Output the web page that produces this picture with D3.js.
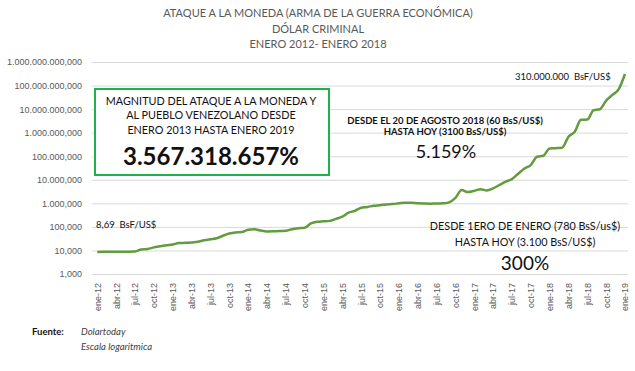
<!DOCTYPE html>
<html>
<head>
<meta charset="utf-8">
<script src="https://cdn.jsdelivr.net/npm/d3@7"></script>
<style>
  body { margin: 0; background: #fff; }
  svg { font-family: Lato, "Liberation Sans", sans-serif; }
  text { white-space: pre; }
</style>
</head>
<body>
<script>
var svgWidth = 635;
var svgHeight = 371;

// month names (es) and years for the category axis
var monthNames = ["ene", "feb", "mar", "abr", "may", "jun", "jul", "ago", "sep", "oct", "nov", "dic"];
var years = ["12", "13", "14", "15", "16", "17", "18", "19"];

// monthly rate BsF/US$, ene-12 .. ene-19
var rates = [
  8.69, 8.7, 8.8, 8.9, 8.9, 8.9, 9.0, 11.0, 11.5, 13.5, 15.0, 16.5,
  18.0, 20.5, 21.0, 21.5, 23.5, 27, 30, 33, 42, 52, 58, 60,
  75, 80, 70, 64, 65, 67, 68, 80, 88, 92, 140, 165,
  172, 180, 220, 270, 400, 480, 650, 700, 790, 830, 900, 930,
  1000, 1070, 1050, 1010, 980, 960, 990, 1000, 1100, 1700, 3700, 3000,
  3400, 4000, 3500, 4300, 6000, 8300, 10700, 18000, 30000, 42000, 95000, 105000,
  215000, 220000, 230000, 670000, 1100000, 3500000, 3600000, 9000000, 9800000, 23000000, 40000000, 70000000,
  310000000
];

var yTickValues = [1, 10, 100, 1e3, 1e4, 1e5, 1e6, 1e7, 1e8, 1e9];
var yTickLabels = ["1,000", "10,000", "100,000", "1.000,000", "10.000,000", "100.000,000",
  "1.000.000,000", "10.000.000,000", "100.000.000,000", "1.000.000.000,000"];

var titleLines = ["ATAQUE A LA MONEDA (ARMA DE LA GUERRA ECONÓMICA)", "DÓLAR CRIMINAL", "ENERO 2012- ENERO 2018"];

var months = [];
years.forEach(function(y) {
  monthNames.forEach(function(m) { months.push(m + "-" + y); });
});
months = months.slice(0, rates.length);

var svg = d3.select("body").append("svg")
  .attr("width", svgWidth)
  .attr("height", svgHeight);

var x = d3.scalePoint().domain(months).range([97.3, 625]);
var y = d3.scaleLog().domain([1, 1e9]).range([274, 62]);

// title
svg.append("g").selectAll("text")
  .data(titleLines)
  .enter().append("text")
  .attr("x", 318)
  .attr("y", (d, i) => 17 + i * 15.5)
  .attr("text-anchor", "middle")
  .attr("font-size", 11)
  .attr("fill", "#595959")
  .text(d => d);

// gridlines + y labels
var yAxis = d3.axisLeft(y)
  .tickValues(yTickValues)
  .tickSize(-(628 - 92))
  .tickPadding(10)
  .tickFormat((d, i) => yTickLabels[i]);

svg.append("g")
  .attr("transform", "translate(92,0)")
  .call(yAxis)
  .call(g => g.select(".domain").remove())
  .call(g => g.selectAll("line").attr("stroke", "#d9d9d9"))
  .call(g => g.selectAll("text").attr("font-size", 9).attr("fill", "#595959").attr("x", -10));

// x labels
var xAxis = d3.axisBottom(x)
  .tickValues(months.filter((d, i) => i % 3 === 0))
  .tickSize(0);

svg.append("g")
  .attr("transform", "translate(0,283)")
  .call(xAxis)
  .call(g => g.select(".domain").remove())
  .call(g => g.selectAll("text")
    .attr("font-size", 9)
    .attr("fill", "#595959")
    .attr("transform", "rotate(-90)")
    .attr("text-anchor", "end")
    .attr("dy", "0.32em")
    .attr("x", 0)
    .attr("y", 0));

// line
var line = d3.line()
  .x((d, i) => x(months[i]))
  .y(d => y(d))
  .curve(d3.curveMonotoneX);

svg.append("path")
  .datum(rates)
  .attr("fill", "none")
  .attr("stroke", "#629c3e")
  .attr("stroke-width", 2.5)
  .attr("d", line);

// green box
svg.append("rect")
  .attr("x", 95).attr("y", 89)
  .attr("width", 234).attr("height", 86)
  .attr("fill", "#fff")
  .attr("stroke", "#1fb24a")
  .attr("stroke-width", 2);

var boxLines = ["MAGNITUD DEL ATAQUE A LA MONEDA Y", "AL PUEBLO VENEZOLANO DESDE", "ENERO 2013 HASTA ENERO 2019"];
svg.append("g").selectAll("text")
  .data(boxLines)
  .enter().append("text")
  .attr("x", 211)
  .attr("y", (d, i) => 104.5 + i * 14.8)
  .attr("text-anchor", "middle")
  .attr("font-size", 10.8)
  .attr("fill", "#111")
  .text(d => d);

svg.append("text")
  .attr("x", 211).attr("y", 165)
  .attr("text-anchor", "middle")
  .attr("font-size", 24)
  .attr("font-weight", "bold")
  .attr("fill", "#111")
  .text("3.567.318.657%");

// annotations
function note(txt, ax, ay, size, weight, anchor) {
  svg.append("text")
    .attr("x", ax).attr("y", ay)
    .attr("text-anchor", anchor || "start")
    .attr("font-size", size)
    .attr("font-weight", weight || "normal")
    .attr("fill", "#111")
    .text(txt);
}

note("8,69  BsF/US$", 96, 227.5, 9.5);
note("310.000.000  BsF/US$", 515, 80, 9.5);
note("DESDE EL 20 DE AGOSTO 2018 (60 BsS/US$)", 445, 123.5, 9.5, "bold", "middle");
note("HASTA HOY (3100 BsS/US$)", 445, 135, 9.5, "bold", "middle");
note("5.159%", 446, 158, 18, "normal", "middle");
note("DESDE 1ERO DE ENERO (780 BsS/us$)", 525, 230, 10.8, "normal", "middle");
note("HASTA HOY (3.100 BsS/US$)", 525, 246, 10.8, "normal", "middle");
note("300%", 525, 270, 19, "normal", "middle");

// footer
note("Fuente:", 32, 335, 9.5, "bold");
svg.append("text").attr("x", 81).attr("y", 335).attr("font-size", 9.5)
  .attr("font-style", "italic").attr("fill", "#404040").text("Dolartoday");
svg.append("text").attr("x", 81).attr("y", 350).attr("font-size", 9.5)
  .attr("font-style", "italic").attr("fill", "#404040").text("Escala logaritmica");
</script>
</body>
</html>
